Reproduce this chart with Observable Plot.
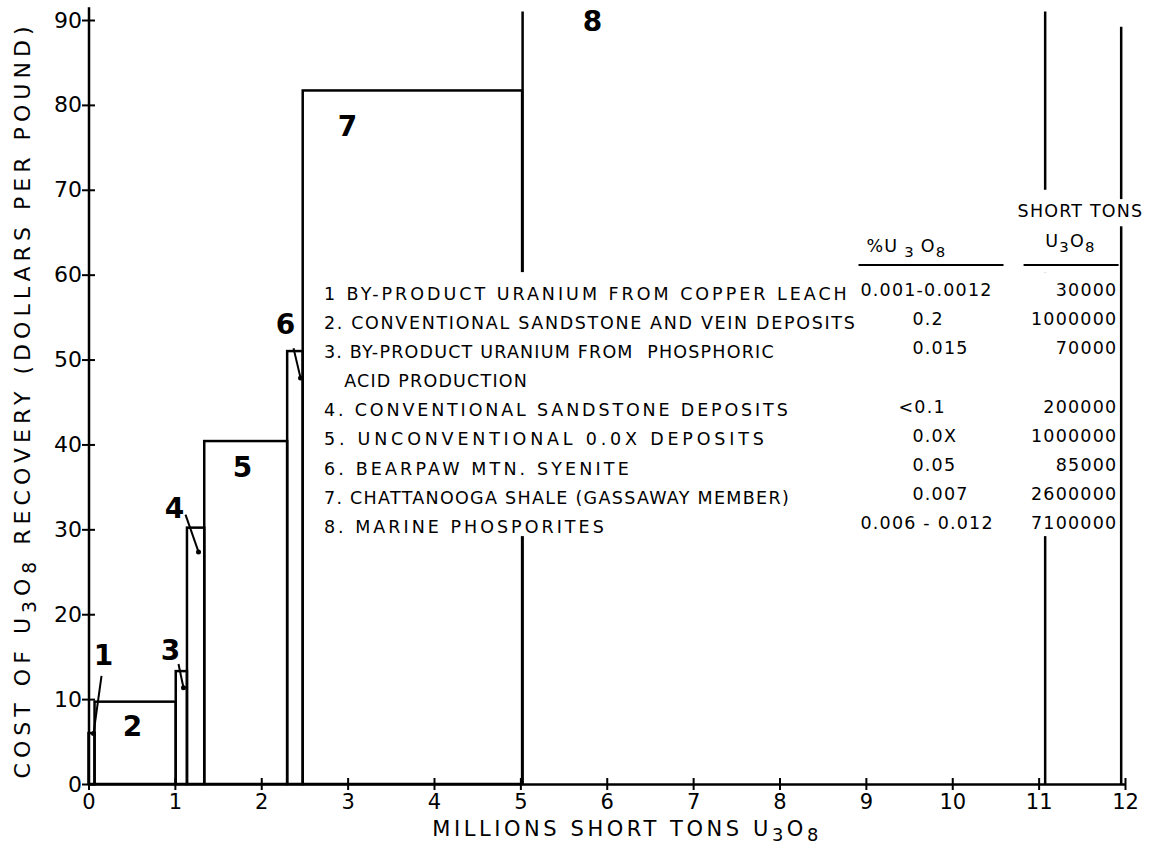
<!DOCTYPE html>
<html><head><meta charset="utf-8">
<script src="https://cdn.jsdelivr.net/npm/d3@7"></script>
<script src="https://cdn.jsdelivr.net/npm/@observablehq/plot@0.6"></script>
<style>
html,body{margin:0;padding:0;background:#fff;overflow:hidden}
</style></head><body><div id="chart"></div>
<script>
// ---- data ----
const deposits = [1, 2, 3, 4, 5, 6, 7, 8];
const xStart = [0, 0.07, 1.01, 1.14, 1.34, 2.30, 2.48, 5.02];   // millions short tons (cumulative)
const xEnd   = [0.07, 1.01, 1.14, 1.34, 2.30, 2.48, 5.02, 11.95];
const cost   = [6.0, 9.7, 13.3, 30.2, 40.4, 51.0, 81.7, 91];    // $/lb ; deposit 8 runs off the top
const extraBoundary = [11.07];

const names = [
  "1 BY-PRODUCT URANIUM FROM COPPER LEACH",
  "2. CONVENTIONAL SANDSTONE AND VEIN DEPOSITS",
  "3. BY-PRODUCT URANIUM FROM  PHOSPHORIC\n\u00a0\u00a0\u00a0ACID PRODUCTION",
  "4. CONVENTIONAL SANDSTONE DEPOSITS",
  "5. UNCONVENTIONAL 0.0X DEPOSITS",
  "6. BEARPAW MTN. SYENITE",
  "7. CHATTANOOGA SHALE (GASSAWAY MEMBER)",
  "8. MARINE PHOSPORITES"
];
const grades = ["0.001-0.0012", "0.2", "0.015", "<0.1", "0.0X", "0.05", "0.007", "0.006 - 0.012"];
const tons = [30000, 1000000, 70000, 200000, 1000000, 85000, 2600000, 7100000];

const xTicks = [0,1,2,3,4,5,6,7,8,9,10,11,12];
const yTicks = [0,10,20,30,40,50,60,70,80,90];

// ---- annotation placement (data units) ----
const labelX = [0.168, 0.504, 0.944, 0.990, 1.777, 2.275, 2.993, 5.83];
const labelY = [15.1, 6.8, 15.7, 32.5, 37.3, 54.1, 77.4, 89.8];
const leaders = [
  {x1: 0.145, y1: 12.8, x2: 0.052, y2: 6.0},
  {x1: 1.036, y1: 14.2, x2: 1.094, y2: 11.4},
  {x1: 1.117, y1: 31.8, x2: 1.268, y2: 27.4},
  {x1: 2.368, y1: 51.4, x2: 2.449, y2: 47.9}
];
const masks = [
  {x1: 2.657, x2: 11.906, y1: 29.2, y2: 60.3},
  {x1: 8.816, x2: 11.906, y1: 60.3, y2: 70.0},
  {x1: 10.61, x2: 12.31, y1: 65.7, y2: 68.9}
];
const nameWidths = [524, 532, null, 465, 441, 306, 466, 281]; // rendered widths of the hand lettering (px)
const rowTop = 58.19, rowStep = 3.43;
const lineCounts = names.map(s => s.split("\n").length);
const slots = lineCounts.map((_, i) => d3.sum(lineCounts.slice(0, i)));
const rowY = slots.map(s => rowTop - s * rowStep);

const bars = deposits.slice(0, 7).map((id, i) => ({id, x1: xStart[i], x2: xEnd[i], y: cost[i]}));
const openEdges = [xStart[7], xEnd[7], ...extraBoundary];

const F = "DejaVu Sans, Liberation Sans, sans-serif";
const T = 17.5;

const svg = Plot.plot({
  width: 1154, height: 849,
  marginTop: 20, marginBottom: 65, marginLeft: 88.5, marginRight: 29,
  x: {domain: [0, 12], axis: null},
  y: {domain: [0, 90], axis: null},
  style: {fontFamily: F, fontSize: "22px", color: "black", background: "white"},
  marks: [
    Plot.rect(bars, {x1: "x1", x2: "x2", y1: 0, y2: "y", fill: "none", stroke: "black", strokeWidth: 2.5}),
    Plot.ruleX(openEdges, {x: d => d, y1: 0, y2: (d, i) => i === 1 ? 89.2 : cost[7], stroke: "black", strokeWidth: 2.5}),
    Plot.ruleX([0], {y1: 0, y2: 91.5, stroke: "black", strokeWidth: 2.5}),
    Plot.ruleY([0], {x1: 0, x2: 12, stroke: "black", strokeWidth: 2.5}),
    Plot.axisY({ticks: yTicks, tickSize: 13, dx: 6.5, strokeWidth: 2, tickFormat: () => "", label: null}),
    Plot.axisY({ticks: yTicks, tickSize: 0, tickPadding: 7, fontSize: 22, label: null}),
    Plot.axisX({ticks: xTicks, tickSize: 12, dy: -6, strokeWidth: 2, tickFormat: () => "", label: null}),
    Plot.axisX({ticks: xTicks, tickSize: 0, tickPadding: 10, fontSize: 21, label: null}),
    // white panel behind the table
    Plot.rect(masks, {x1: "x1", x2: "x2", y1: "y1", y2: "y2", fill: "white"}),
    // table
    Plot.text(names, {x: 2.72, y: rowY.map((v, i) => v - (lineCounts[i] - 1) * rowStep / 2), text: d => d, textAnchor: "start", lineHeight: 1.66, fontSize: T, ariaDescription: "names"}),
    Plot.text(grades, {x: d => d.includes("-") ? 8.932 : d.startsWith("<") ? 9.372 : 9.534, y: rowY, text: d => d, textAnchor: "start", fontSize: T, ariaDescription: "table"}),
    Plot.text(tons, {x: 11.906, y: rowY, text: d => String(d), textAnchor: "end", fontSize: T, ariaDescription: "table"}),
    Plot.text(["%U{ 3 }O{8}"], {x: 9.464, y: 63.4, text: d => d, fontSize: T, ariaDescription: "table"}),
    Plot.text(["SHORT TONS"], {x: 11.479, y: 67.5, text: d => d, fontSize: T, ariaDescription: "table"}),
    Plot.text(["U{3}O{8}"], {x: 11.363, y: 64.0, text: d => d, fontSize: T, ariaDescription: "table"}),
    Plot.link([{a: 8.909, b: 10.588}, {a: 10.82, b: 11.92}], {x1: "a", x2: "b", y1: 61.2, y2: 61.2, stroke: "black", strokeWidth: 2}),
    // deposit numbers and leaders
    Plot.link(leaders, {x1: "x1", y1: "y1", x2: "x2", y2: "y2", stroke: "black", strokeWidth: 2}),
    Plot.dot(leaders, {x: "x2", y: "y2", r: 2.5, fill: "black"}),
    Plot.text(deposits, {x: labelX, y: labelY, text: d => String(d), fontSize: 28, fontWeight: "bold"}),
    // axis titles
    Plot.text(["COST OF U{3}O{8} RECOVERY (DOLLARS PER POUND)"], {frameAnchor: "left", dx: -66, rotate: -90, text: d => d, fontSize: 22}),
    Plot.text(["MILLIONS SHORT TONS U{3}O{8}"], {frameAnchor: "bottom", dx: 18, dy: 51, text: d => d, fontSize: 21})
  ]
});

// subscripts and spacing
const NS = "http://www.w3.org/2000/svg";
d3.select(svg).selectAll("text").each(function() {
  const el = this;
  const s = el.textContent;
  if (el.querySelector("tspan") || !/\{[^}]*\}/.test(s)) return;
  el.textContent = "";
  s.split(/\{([^}]*)\}/).forEach((p, k) => {
    if (!p) return;
    const t = document.createElementNS(NS, "tspan");
    t.textContent = p;
    if (k % 2 === 1) { t.setAttribute("baseline-shift", "-30%"); t.setAttribute("font-size", "85%"); }
    el.appendChild(t);
  });
});
d3.select(svg).selectAll('g[aria-description="table"] text, g[aria-description="names"] text').style("letter-spacing", "1.2px");
d3.select(svg).selectAll('g[aria-description="names"] text').each(function(d, i) {
  const w = nameWidths[i];
  if (w) { this.setAttribute("textLength", w); this.setAttribute("lengthAdjust", "spacing"); }
});
d3.select(svg).selectAll("text").each(function() {
  const s = this.textContent;
  if (s.startsWith("COST OF")) {
    this.setAttribute("textLength", 752); this.setAttribute("lengthAdjust", "spacing");
    this.setAttribute("text-anchor", "start"); this.setAttribute("x", -376);
  }
  if (s.startsWith("MILLIONS")) {
    this.setAttribute("textLength", 386); this.setAttribute("lengthAdjust", "spacing");
    this.setAttribute("text-anchor", "start"); this.setAttribute("x", -193);
  }
});
document.getElementById("chart").appendChild(svg);
</script></body></html>
